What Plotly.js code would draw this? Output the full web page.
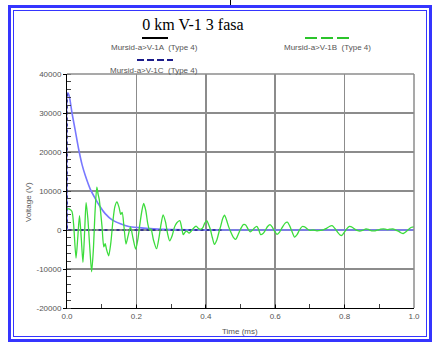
<!DOCTYPE html>
<html>
<head>
<meta charset="utf-8">
<script src="https://cdn.plot.ly/plotly-3.0.1.min.js"></script>
<style>
  html, body { margin: 0; padding: 0; background: #fff; width: 432px; height: 343px; overflow: hidden; }
  #chart { position: absolute; left: 0; top: 0; width: 432px; height: 343px; }
  #frameOuter { position: absolute; left: 8px; top: 5px; width: 418px; height: 331px; border: 3px solid #3535ff; pointer-events: none; }
  #frameInner { position: absolute; left: 2px; top: 2px; right: 2px; bottom: 2px; border: 1px solid #3535ff; }
  #topTick { position: absolute; left: 230px; top: 0; width: 1px; height: 5px; background: #000; }
</style>
</head>
<body>
<div id="chart"></div>
<div id="frameOuter"><div id="frameInner"></div></div>
<div id="topTick"></div>
<script>
// ---- data ----
const chartTitle = "0 km V-1 3 fasa";
const seriesNames = ["Mursid-a>V-1A  (Type 4)", "Mursid-a>V-1B  (Type 4)", "Mursid-a>V-1C  (Type 4)"];

// Phase B (green) voltage, time in ms, voltage in V
const greenT = [0,0.006,0.014,0.019,0.026,0.031,0.036,0.041,0.046,0.051,0.055,0.060,0.066,0.071,0.076,0.081,0.086,0.090,0.093,0.097,
  0.101,0.106,0.110,0.114,0.120,0.126,0.132,0.138,0.144,0.150,0.155,0.159,0.164,0.170,0.176,0.183,0.190,0.198,0.204,0.210,
  0.216,0.221,0.227,0.233,0.238,0.242,0.249,0.258,0.265,0.271,0.277,0.284,0.290,0.296,0.303,0.310,0.316,0.325,0.330,0.335,
  0.340,0.345,0.352,0.358,0.364,0.372,0.380,0.386,0.392,0.397,0.403,0.408,0.413,0.419,0.425,0.432,0.438,0.443,0.449,0.454,
  0.460,0.466,0.472,0.479,0.486,0.493,0.500,0.508,0.515,0.522,0.528,0.535,0.540,0.547,0.552,0.558,0.565,0.572,0.578,0.585,
  0.592,0.598,0.605,0.612,0.620,0.628,0.635,0.642,0.648,0.656,0.663,0.670,0.678,0.685,0.692,0.700,0.710,0.720,0.730,0.740,
  0.748,0.756,0.764,0.772,0.780,0.786,0.792,0.799,0.806,0.814,0.820,0.828,0.836,0.844,0.852,0.862,0.870,0.878,0.888,0.896,
  0.904,0.912,0.922,0.930,0.939,0.947,0.955,0.962,0.969,0.976,0.985,0.993,1.0];
const greenV = [5500,5400,4800,1500,-7200,-2000,3700,-2000,-8300,0,7000,3000,-5000,-10700,-5000,5000,11000,9000,7800,4500,
  800,-4300,-3500,-5000,-6600,-3500,2000,6000,7200,5800,4000,4500,1000,-3600,-1500,800,-2000,-4900,-2500,1500,
  5000,6800,5000,1500,0,300,-2500,-4800,-2000,1500,3900,2000,-1000,-2800,-1500,800,1800,2400,800,-1200,
  -600,-300,-800,-300,400,1000,300,200,700,1800,2400,1400,200,-2000,-3700,-2500,-500,1000,3000,3800,
  2500,800,-500,-1800,-2400,-1200,200,1400,1300,200,-500,0,500,900,200,-1200,-900,0,900,1400,
  700,-300,-1100,-600,600,1700,2000,1000,-300,-1800,-1200,0,900,800,300,-100,0,-200,-100,100,
  400,900,1100,400,-600,-1200,-1400,-600,300,900,800,300,-100,-300,-100,300,100,-200,-200,0,
  200,300,100,200,300,0,-300,-700,-900,-500,200,700,800];

// Light blue decaying curve
const blueT = [0,0.002,0.0066,0.0144,0.024,0.0337,0.043,0.053,0.067,0.082,0.096,0.110,0.130,0.154,0.178,0.207,0.25,0.30,0.40,0.60,0.80,1.0];
const blueV = [0,35200,34300,30000,25400,20700,16900,13900,10500,8000,5900,4200,2600,1600,900,600,300,100,0,0,0,0];

// Phase C (navy, dashed)
const navyT = [0,0,0.45];
const navyV = [35000,0,0];

// axis ticks
const xTickVals = [0,0.2,0.4,0.6,0.8,1.0];
const xTickText = ["0.0","0.2","0.4","0.6","0.8","1.0"];
const yTickVals = [-20000,-10000,0,10000,20000,30000,40000];
const yTickText = ["-20000","-10000","0","10000","20000","30000","40000"];

// ---- layout helpers (pixel -> paper) ----
const W = 432, H = 343, L = 67, R = 18, T = 74, B = 35;
const pw = W - L - R, ph = H - T - B;
const px = x => (x - L) / pw;
const py = y => (H - B - y) / ph;

const traces = [
  { x: blueT, y: blueV, type: "scatter", mode: "lines", line: { color: "#7878ff", width: 1.6, shape: "spline", smoothing: 0.6 }, hoverinfo: "none", showlegend: false },
  { x: navyT, y: navyV, type: "scatter", mode: "lines", name: seriesNames[2], line: { color: "#1c1c8a", width: 1.5, dash: "dot" }, hoverinfo: "none", showlegend: false },
  { x: greenT, y: greenV, type: "scatter", mode: "lines", name: seriesNames[1], line: { color: "#3cdc3c", width: 1.3, shape: "spline", smoothing: 0.7 }, hoverinfo: "none", showlegend: false }
];

const labelFont = { family: "Liberation Sans, Arial, sans-serif", size: 8, color: "#555" };

const layout = {
  width: W, height: H,
  margin: { l: L, r: R, t: T, b: B, pad: 0 },
  paper_bgcolor: "#fff", plot_bgcolor: "#fff",
  showlegend: false,
  xaxis: {
    range: [0, 1], tickvals: xTickVals, ticktext: xTickText,
    showgrid: true, gridcolor: "#8c8c8c", gridwidth: 1.5, zeroline: false,
    showline: true, linecolor: "#000", linewidth: 1,
    ticks: "inside", ticklen: 3, tickcolor: "#000",
    minor: { dtick: 0.1, ticks: "inside", ticklen: 4, tickcolor: "#444", showgrid: false },
    tickfont: labelFont, fixedrange: true
  },
  yaxis: {
    range: [-20000, 40000], tickvals: yTickVals, ticktext: yTickText,
    showgrid: true, gridcolor: "#8c8c8c", gridwidth: 1.5, zeroline: false,
    showline: true, linecolor: "#000", linewidth: 1,
    ticks: "outside", ticklen: 3, tickcolor: "#000",
    minor: { dtick: 2000, ticks: "inside", ticklen: 4, tickcolor: "#444", showgrid: false },
    tickfont: labelFont, fixedrange: true
  },
  title: { text: chartTitle, x: px(222), xanchor: "center", y: 1 - 24 / H, yanchor: "middle",
           font: { family: "Liberation Serif, Times New Roman, serif", size: 16, color: "#000" } },
  annotations: [
    { text: seriesNames[0], xref: "paper", yref: "paper", x: px(154), y: py(48), showarrow: false, font: labelFont, xanchor: "center", yanchor: "middle" },
    { text: seriesNames[1], xref: "paper", yref: "paper", x: px(327), y: py(48), showarrow: false, font: labelFont, xanchor: "center", yanchor: "middle" },
    { text: seriesNames[2], xref: "paper", yref: "paper", x: px(154), y: py(70), showarrow: false, font: labelFont, xanchor: "center", yanchor: "middle" },
    { text: "Voltage (V)", xref: "paper", yref: "paper", x: px(28), y: py(202), showarrow: false, textangle: -90, font: labelFont, xanchor: "center", yanchor: "middle" },
    { text: "Time (ms)", xref: "paper", yref: "paper", x: px(240), y: py(331), showarrow: false, font: labelFont, xanchor: "center", yanchor: "middle" }
  ],
  shapes: [
    { type: "line", xref: "paper", yref: "paper", x0: px(142), x1: px(168), y0: py(38), y1: py(38), line: { color: "#000", width: 2 } },
    { type: "line", xref: "paper", yref: "paper", x0: px(305), x1: px(350), y0: py(38), y1: py(38), line: { color: "#2bc42b", width: 2, dash: "12px,4px" } },
    { type: "line", xref: "paper", yref: "paper", x0: px(137), x1: px(173), y0: py(60), y1: py(60), line: { color: "#1c1c8a", width: 2, dash: "7px,3px" } },
    { type: "line", xref: "paper", yref: "paper", x0: 1, x1: 1, y0: 0, y1: 1, line: { color: "#8c8c8c", width: 1.5 } },
    { type: "line", xref: "paper", yref: "paper", x0: 0, x1: 1, y0: 1, y1: 1, line: { color: "#8c8c8c", width: 1.5 } }
  ]
};

Plotly.newPlot("chart", traces, layout, { staticPlot: true, displayModeBar: false });
</script>
</body>
</html>
